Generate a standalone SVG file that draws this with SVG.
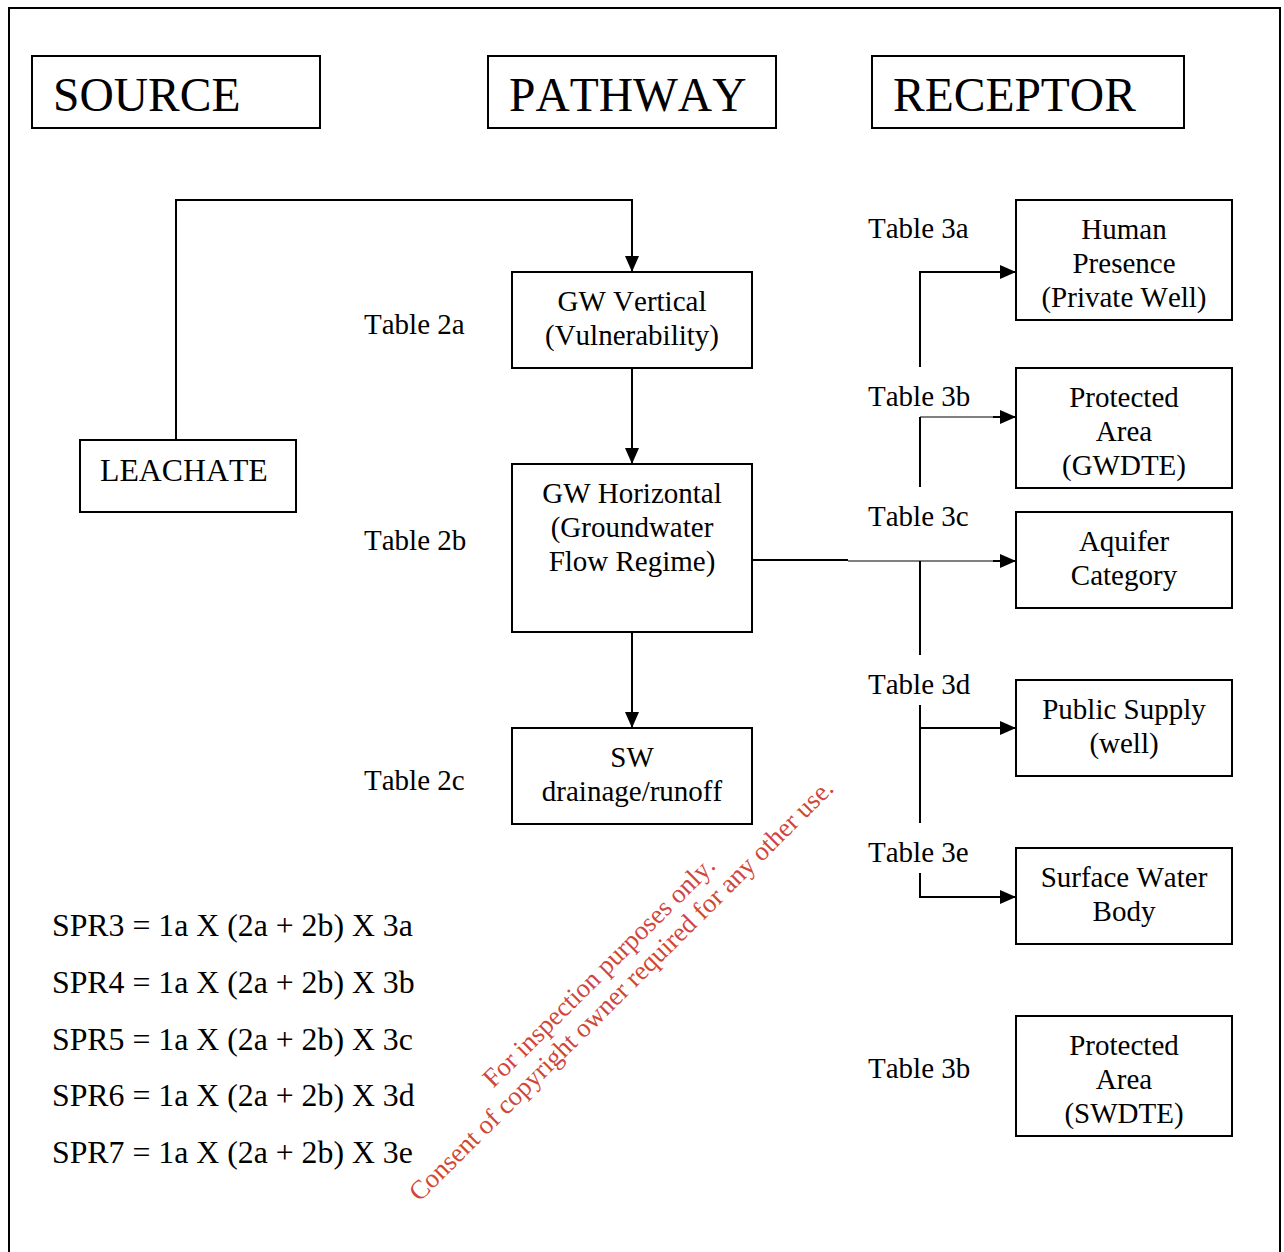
<svg xmlns="http://www.w3.org/2000/svg" width="1284" height="1252" viewBox="0 0 1284 1252">
  <style>
    text { font-family: "Liberation Serif", "Times New Roman", serif; font-kerning: none; fill: #000000; }
    .box { fill: #ffffff; stroke: #000000; stroke-width: 2; }
    .line { fill: none; stroke: #000000; stroke-width: 2; }
    .thin { fill: none; stroke: #000000; stroke-width: 1; }
    .hdr { font-size: 47.5px; }
    .txt { font-size: 29px; }
    .big { font-size: 31.8px; }
    .mid { text-anchor: middle; }
    .wm { font-size: 26.6px; fill: #d2463a; text-anchor: middle; }
  </style>
  <defs>
    <marker id="arrow" markerUnits="userSpaceOnUse" markerWidth="16" markerHeight="14" refX="16" refY="7" orient="auto">
      <path d="M0,0 L16,7 L0,14 Z" fill="#000000"/>
    </marker>
  </defs>

  <rect width="1284" height="1252" fill="#ffffff"/>

  <!-- page frame (open at the bottom) -->
  <path class="line" d="M9,1252 V8 H1280 V1252"/>

  <!-- column headers -->
  <g id="header-source">
    <rect class="box" x="32" y="56" width="288" height="72"/>
    <text class="hdr" x="53" y="111">SOURCE</text>
  </g>
  <g id="header-pathway">
    <rect class="box" x="488" y="56" width="288" height="72"/>
    <text class="hdr" x="509" y="111">PATHWAY</text>
  </g>
  <g id="header-receptor">
    <rect class="box" x="872" y="56" width="312" height="72"/>
    <text class="hdr" x="893" y="111">RECEPTOR</text>
  </g>

  <!-- connectors -->
  <g id="connectors">
    <path class="line" d="M176,440 V200 H632 V272" marker-end="url(#arrow)"/>
    <path class="line" d="M632,368 V464" marker-end="url(#arrow)"/>
    <path class="line" d="M632,632 V728" marker-end="url(#arrow)"/>

    <!-- to aquifer category -->
    <path class="line" d="M752,560 H848"/>
    <path class="thin" d="M848,561 H994"/>
    <path class="line" d="M993,561 H1016" marker-end="url(#arrow)"/>

    <!-- receptor trunk -->
    <path class="line" d="M920,367 V272 H1016" marker-end="url(#arrow)"/>
    <path class="line" d="M920,487 V417"/>
    <path class="thin" d="M920,417 H994"/>
    <path class="line" d="M993,417 H1016" marker-end="url(#arrow)"/>
    <path class="line" d="M920,561 V655"/>
    <path class="line" d="M920,705 V823"/>
    <path class="line" d="M920,728 H1016" marker-end="url(#arrow)"/>
    <path class="line" d="M920,873 V897 H1016" marker-end="url(#arrow)"/>
  </g>

  <!-- source -->
  <g id="leachate">
    <rect class="box" x="80" y="440" width="216" height="72"/>
    <text class="big" x="100" y="481">LEACHATE</text>
  </g>

  <!-- pathways -->
  <g id="gw-vertical">
    <rect class="box" x="512" y="272" width="240" height="96"/>
    <text class="txt mid" x="632" y="311">GW Vertical</text>
    <text class="txt mid" x="632" y="345">(Vulnerability)</text>
  </g>
  <g id="gw-horizontal">
    <rect class="box" x="512" y="464" width="240" height="168"/>
    <text class="txt mid" x="632" y="503">GW Horizontal</text>
    <text class="txt mid" x="632" y="537">(Groundwater</text>
    <text class="txt mid" x="632" y="571">Flow Regime)</text>
  </g>
  <g id="sw-drainage">
    <rect class="box" x="512" y="728" width="240" height="96"/>
    <text class="txt mid" x="632" y="767">SW</text>
    <text class="txt mid" x="632" y="801">drainage/runoff</text>
  </g>

  <!-- receptors -->
  <g id="human-presence">
    <rect class="box" x="1016" y="200" width="216" height="120"/>
    <text class="txt mid" x="1124" y="239">Human</text>
    <text class="txt mid" x="1124" y="273">Presence</text>
    <text class="txt mid" x="1124" y="307">(Private Well)</text>
  </g>
  <g id="protected-area-gwdte">
    <rect class="box" x="1016" y="368" width="216" height="120"/>
    <text class="txt mid" x="1124" y="407">Protected</text>
    <text class="txt mid" x="1124" y="441">Area</text>
    <text class="txt mid" x="1124" y="475">(GWDTE)</text>
  </g>
  <g id="aquifer-category">
    <rect class="box" x="1016" y="512" width="216" height="96"/>
    <text class="txt mid" x="1124" y="551">Aquifer</text>
    <text class="txt mid" x="1124" y="585">Category</text>
  </g>
  <g id="public-supply">
    <rect class="box" x="1016" y="680" width="216" height="96"/>
    <text class="txt mid" x="1124" y="719">Public Supply</text>
    <text class="txt mid" x="1124" y="753">(well)</text>
  </g>
  <g id="surface-water-body">
    <rect class="box" x="1016" y="848" width="216" height="96"/>
    <text class="txt mid" x="1124" y="887">Surface Water</text>
    <text class="txt mid" x="1124" y="921">Body</text>
  </g>
  <g id="protected-area-swdte">
    <rect class="box" x="1016" y="1016" width="216" height="120"/>
    <text class="txt mid" x="1124" y="1055">Protected</text>
    <text class="txt mid" x="1124" y="1089">Area</text>
    <text class="txt mid" x="1124" y="1123">(SWDTE)</text>
  </g>

  <!-- table references -->
  <g id="table-labels">
    <text class="txt" x="364" y="334">Table 2a</text>
    <text class="txt" x="364" y="550">Table 2b</text>
    <text class="txt" x="364" y="790">Table 2c</text>
    <text class="txt" x="868" y="238">Table 3a</text>
    <text class="txt" x="868" y="406">Table 3b</text>
    <text class="txt" x="868" y="526">Table 3c</text>
    <text class="txt" x="868" y="694">Table 3d</text>
    <text class="txt" x="868" y="862">Table 3e</text>
    <text class="txt" x="868" y="1078">Table 3b</text>
  </g>

  <!-- risk formulae -->
  <g id="formulae">
    <text class="big" x="52" y="936">SPR3 = 1a X (2a + 2b) X 3a</text>
    <text class="big" x="52" y="993">SPR4 = 1a X (2a + 2b) X 3b</text>
    <text class="big" x="52" y="1050">SPR5 = 1a X (2a + 2b) X 3c</text>
    <text class="big" x="52" y="1106">SPR6 = 1a X (2a + 2b) X 3d</text>
    <text class="big" x="52" y="1163">SPR7 = 1a X (2a + 2b) X 3e</text>
  </g>

  <!-- stamp -->
  <g id="stamp" transform="translate(605,978) rotate(-44.8)">
    <text class="wm" x="0" y="0">For inspection purposes only.</text>
    <text class="wm" x="3" y="28.5">Consent of copyright owner required for any other use.</text>
  </g>
</svg>
